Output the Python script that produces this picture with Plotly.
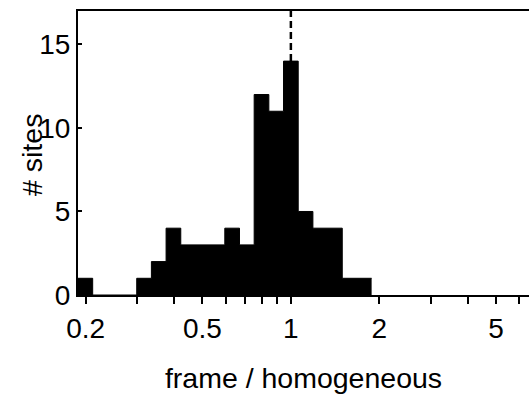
import plotly.graph_objects as go

# Histogram of frame / homogeneous ratios, binned in steps of 0.05 in log10
log_bin_centers = [-0.70, -0.65, -0.60, -0.55, -0.50, -0.45, -0.40, -0.35, -0.30, -0.25,
                   -0.20, -0.15, -0.10, -0.05, 0.00, 0.05, 0.10, 0.15, 0.20, 0.25]
site_counts = [1, 0, 0, 0, 1, 2, 4, 3, 3, 3,
               4, 3, 12, 11, 14, 5, 4, 4, 1, 1]
bin_half_width = 0.025

x_tick_values = [0.2, 0.3, 0.4, 0.5, 0.6, 0.7, 0.8, 0.9, 1, 2, 3, 4, 5, 6]
x_tick_labels = ["0.2", "", "", "0.5", "", "", "", "", "1", "2", "", "", "5", ""]
y_tick_values = [0, 5, 10, 15]

x_log_range = [-0.725, 0.811]
y_max = 17

# Build the step outline from the bin edges
step_x, step_y = [], []
for c, n in zip(log_bin_centers, site_counts):
    step_x += [10 ** (c - bin_half_width), 10 ** (c + bin_half_width)]
    step_y += [n, n]

font_family = "Liberation Sans, Arial, Helvetica, sans-serif"

fig = go.Figure()
fig.add_trace(go.Scatter(
    x=step_x, y=step_y, mode="lines",
    line=dict(color="black", width=1),
    fill="tozeroy", fillcolor="black", hoverinfo="skip", showlegend=False,
))

# Dashed marker at ratio 1 above the tallest bar
peak = site_counts[log_bin_centers.index(0.00)]
fig.add_trace(go.Scatter(
    x=[1, 1], y=[peak, y_max], mode="lines",
    line=dict(color="black", width=2.5, dash="7px,4px"),
    hoverinfo="skip", showlegend=False,
))

fig.update_layout(
    width=529, height=403,
    margin=dict(l=78, r=0, t=11, b=108),
    paper_bgcolor="white", plot_bgcolor="white",
    font=dict(family=font_family, color="black", size=28),
    xaxis=dict(
        type="log", range=x_log_range,
        tickvals=x_tick_values, ticktext=x_tick_labels,
        ticks="outside", ticklen=7, tickwidth=1.5, tickcolor="black",
        showline=True, linecolor="black", linewidth=2, mirror=True,
        showgrid=False, zeroline=False,
        tickfont=dict(size=28),
        title=dict(text="frame / homogeneous", font=dict(size=28.5), standoff=25),
    ),
    yaxis=dict(
        range=[0, y_max], tickvals=y_tick_values,
        ticks="inside", ticklen=4, tickwidth=1.5, tickcolor="black",
        showline=True, linecolor="black", linewidth=2, mirror=False,
        showgrid=False, zeroline=False,
        tickfont=dict(size=28),
    ),
    annotations=[dict(
        text="# sites", textangle=-90, showarrow=False,
        xref="paper", yref="paper", x=-0.102, y=0.493,
        xanchor="center", yanchor="middle",
        font=dict(size=28.5),
    )],
)

fig.write_html("out.html")
